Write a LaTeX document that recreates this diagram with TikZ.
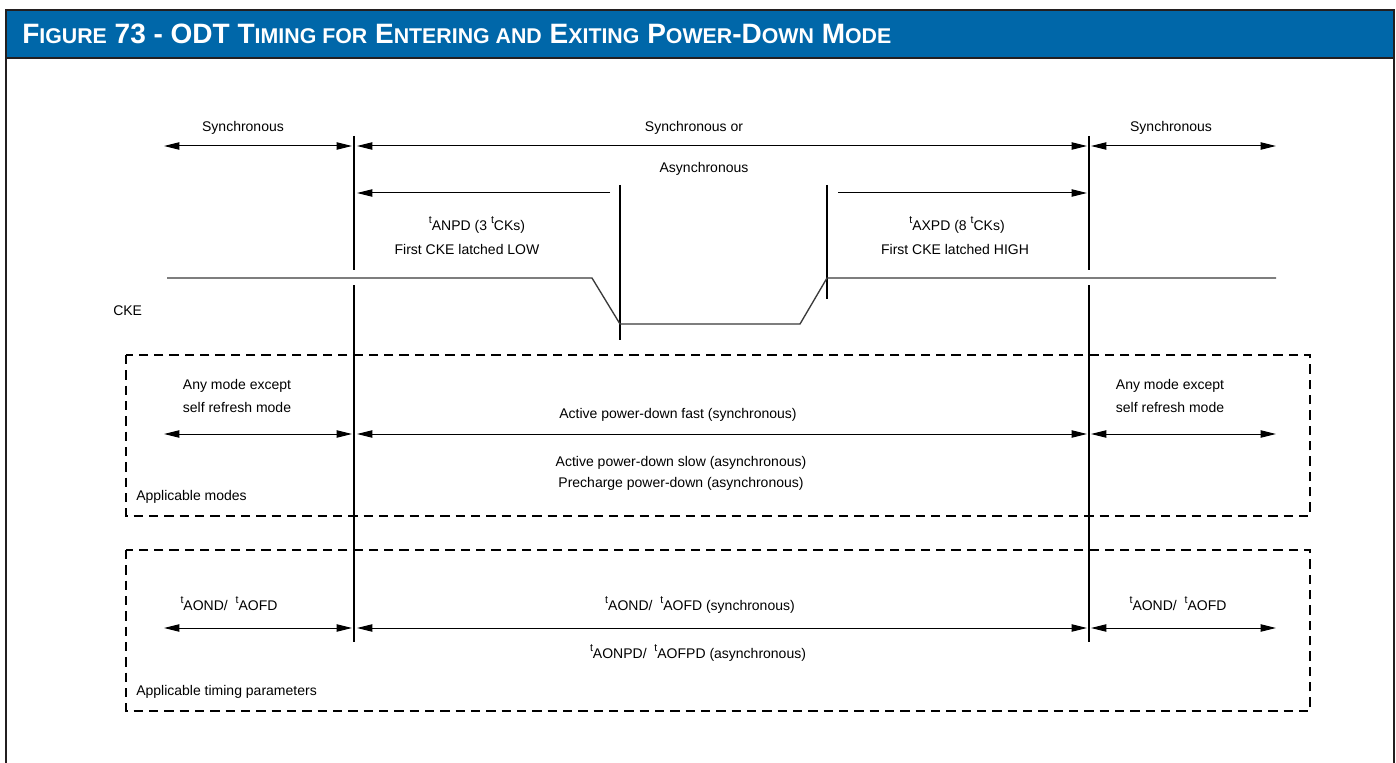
\documentclass[tikz,border=0pt]{standalone}
\usepackage{fontspec}
\setmainfont{Liberation Sans}
\usetikzlibrary{arrows.meta}
\definecolor{titleblue}{HTML}{0067A9}
\definecolor{framedark}{HTML}{231F20}
\definecolor{ckegray}{HTML}{3A3A3A}
\newcommand{\tpre}{\raisebox{0.5em}{\fontsize{8}{8}\selectfont t}}
\newcommand{\capsm}[1]{{\fontsize{16}{17}\selectfont #1}}

\begin{document}
\begin{tikzpicture}[x=0.75pt, y=-0.75pt,
    lbl/.style={font=\fontsize{10.5}{12}\selectfont, inner sep=0pt, anchor=base},
    both/.style={{Triangle[length=11.5pt,width=5.5pt]}-{Triangle[length=11.5pt,width=5.5pt]}, line width=0.75pt},
    toright/.style={-{Triangle[length=11.5pt,width=5.5pt]}, line width=0.75pt},
    marker/.style={line width=1pt},
    regionbox/.style={draw, line width=1.6pt, dash pattern=on 7pt off 4.5pt}]
    \useasboundingbox (0,0) rectangle (1396,763);
    \fill[white] (0,0) rectangle (1396,763);
    \fill[titleblue] (6,10) rectangle (1394,58);
    \draw[framedark, line width=2pt] (6,763) -- (6,10) -- (1394,10) -- (1394,58);
    \draw[framedark, line width=1pt] (1394,58) -- (1394,763);
    \draw[framedark, line width=2pt] (6,58) -- (1394,58);
    \node[anchor=base west, text=white, inner sep=0pt, font=\bfseries\fontsize{21}{22}\selectfont] (title) at (22,44)
        {F\capsm{IGURE} 73 - ODT T\capsm{IMING FOR} E\capsm{NTERING AND} E\capsm{XITING} P\capsm{OWER}-D\capsm{OWN} M\capsm{ODE}};

    % phase boundaries
    \coordinate (la) at (354,136); \coordinate (lb) at (354,270);
    \coordinate (lc) at (354,285); \coordinate (ld) at (354,642);
    \coordinate (ra) at (1089,136); \coordinate (rb) at (1089,270);
    \coordinate (rc) at (1089,285); \coordinate (rd) at (1089,642);
    \coordinate (ma) at (620,185); \coordinate (mb) at (620,340);
    \coordinate (na) at (827,185); \coordinate (nb) at (827,299);
    \draw[marker] (la) -- (lb) (lc) -- (ld);
    \draw[marker] (ra) -- (rb) (rc) -- (rd);
    \draw[marker] (ma) -- (mb) (na) -- (nb);

    % dimension arrows
    \foreach \n/\y in {sync/146, mode/434, par/628} {
        \coordinate (\n-a) at (164,\y);  \coordinate (\n-b) at (352,\y);
        \coordinate (\n-c) at (357,\y);  \coordinate (\n-d) at (1087,\y);
        \coordinate (\n-e) at (1091,\y); \coordinate (\n-f) at (1276,\y);
        \draw[both] (\n-a) -- (\n-b);
        \draw[both] (\n-c) -- (\n-d);
        \draw[both] (\n-e) -- (\n-f);
    }
    \coordinate (anpd-a) at (610,193); \coordinate (anpd-b) at (357,193);
    \coordinate (axpd-a) at (838,193); \coordinate (axpd-b) at (1087,193);
    \draw[toright] (anpd-a) -- (anpd-b);
    \draw[toright] (axpd-a) -- (axpd-b);

    \node[lbl] (syncl) at (243,132) {Synchronous};
    \node[lbl] (syncm) at (694,132) {Synchronous or};
    \node[lbl] (syncr) at (1171,132) {Synchronous};
    \node[lbl] (async) at (704,173) {Asynchronous};
    \node[lbl] (anpd) at (477,230) {\tpre ANPD (3 \tpre CKs)};
    \node[lbl] (anpdlow) at (467,254) {First CKE latched LOW};
    \node[lbl] (axpd) at (957,230) {\tpre AXPD (8 \tpre CKs)};
    \node[lbl] (axpdhigh) at (955,254) {First CKE latched HIGH};

    % CKE waveform
    \node[lbl, anchor=base west] (cke) at (113,315) {CKE};
    \draw[ckegray, line width=1pt] (167,278) -- (592,278) -- (620,324) -- (800,324) -- (827,278) -- (1276,278);

    % applicable modes
    \draw[regionbox] (126,355) rectangle (1310,516);
    \node[lbl] (model1) at (237,389) {Any mode except};
    \node[lbl] (model2) at (237,412) {self refresh mode};
    \node[lbl] (moder1) at (1170,389) {Any mode except};
    \node[lbl] (moder2) at (1170,412) {self refresh mode};
    \node[lbl] (fast) at (678,418) {Active power-down fast (synchronous)};
    \node[lbl] (slow) at (681,466) {Active power-down slow (asynchronous)};
    \node[lbl] (pre) at (681,487) {Precharge power-down (asynchronous)};
    \node[lbl, anchor=base west] (modes) at (136,500) {Applicable modes};

    % applicable timing parameters
    \draw[regionbox] (126,550) rectangle (1310,711);
    \node[lbl] (parl) at (229,610) {\tpre AOND/\ \ \tpre AOFD};
    \node[lbl] (parr) at (1178,610) {\tpre AOND/\ \ \tpre AOFD};
    \node[lbl] (parsync) at (700,610) {\tpre AOND/\ \ \tpre AOFD (synchronous)};
    \node[lbl] (parasync) at (698,658) {\tpre AONPD/\ \ \tpre AOFPD (asynchronous)};
    \node[lbl, anchor=base west] (params) at (136,695) {Applicable timing parameters};
\end{tikzpicture}
\end{document}
